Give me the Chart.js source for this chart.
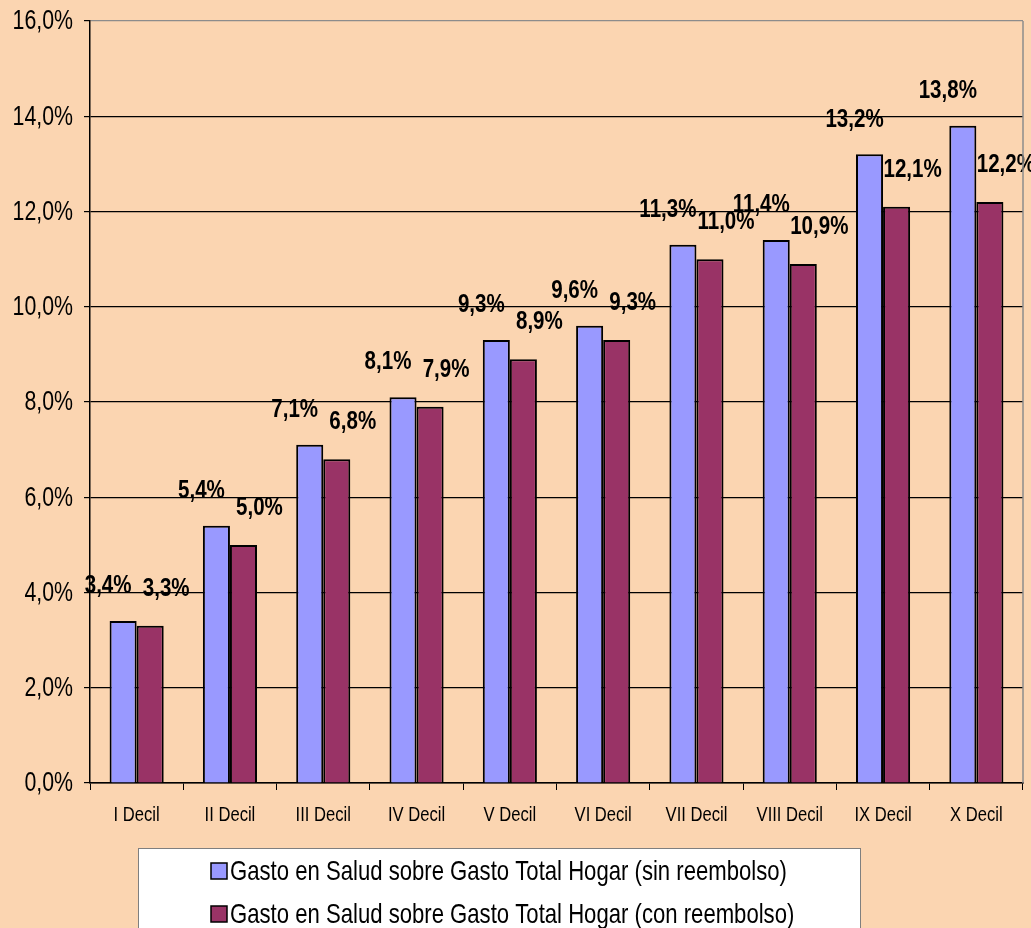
<!DOCTYPE html>
<html>
<head>
<meta charset="utf-8">
<title>Gasto en Salud por decil</title>
<script src="https://cdn.jsdelivr.net/npm/chart.js@4/dist/chart.umd.min.js"></script>
<style>
  html, body { margin: 0; padding: 0; overflow: hidden; background: #fbd5b1; }
  #wrap { position: relative; width: 1031px; height: 928px; }
</style>
</head>
<body>
<div id="wrap"><canvas id="gastoChart"></canvas></div>
<script>
// Deciles de ingreso y porcentaje del gasto en salud sobre el gasto total del hogar
const deciles = ['I Decil', 'II Decil', 'III Decil', 'IV Decil', 'V Decil',
                 'VI Decil', 'VII Decil', 'VIII Decil', 'IX Decil', 'X Decil'];
const sinReembolso = [3.4, 5.4, 7.1, 8.1, 9.3, 9.6, 11.3, 11.4, 13.2, 13.8];
const conReembolso = [3.3, 5.0, 6.8, 7.9, 8.9, 9.3, 11.0, 10.9, 12.1, 12.2];
const yTicks = [0, 2, 4, 6, 8, 10, 12, 14, 16];

const FONT = "'Liberation Sans', Arial, sans-serif";
const BG = '#fbd5b1';
const SQUEEZE = 0.79;   // letra estrecha

// formato con coma decimal: 3.4 -> "3,4%"
function pct(v) {
  return v.toFixed(1).replace('.', ',') + '%';
}

function narrowText(ctx, text, x, y, align) {
  ctx.save();
  ctx.translate(x, y);
  ctx.scale(SQUEEZE, 1);
  ctx.textAlign = align;
  ctx.textBaseline = 'middle';
  ctx.fillText(text, 0, 0);
  ctx.restore();
}

// fondo y marco derecho del area de trazado
const background = {
  id: 'background',
  beforeDraw(chart) {
    const ctx = chart.ctx;
    ctx.save();
    ctx.fillStyle = BG;
    ctx.fillRect(0, 0, chart.width, chart.height);
    ctx.restore();
  },
  afterDraw(chart) {
    const a = chart.chartArea;
    const ctx = chart.ctx;
    ctx.save();
    ctx.strokeStyle = '#8c8c8c';
    ctx.lineWidth = 1.5;
    ctx.beginPath();
    ctx.moveTo(a.right, a.top);
    ctx.lineTo(a.right, a.bottom);
    ctx.stroke();
    ctx.restore();
  }
};

// rotulos de los ejes en letra estrecha
const axisLabels = {
  id: 'axisLabels',
  afterDraw(chart) {
    const ctx = chart.ctx;
    const x = chart.scales.x, y = chart.scales.y;
    ctx.save();
    ctx.fillStyle = '#000';
    ctx.font = '27px ' + FONT;
    y.ticks.forEach(t => {
      narrowText(ctx, pct(t.value), y.right - 17, y.getPixelForValue(t.value) + 1, 'right');
    });
    ctx.font = '21px ' + FONT;
    chart.data.labels.forEach((lab, i) => {
      narrowText(ctx, lab, x.getPixelForTick(i), x.top + 32, 'center');
    });
    ctx.restore();
  }
};

// etiquetas de valor sobre cada barra
const valueLabels = {
  id: 'valueLabels',
  afterDatasetsDraw(chart) {
    const ctx = chart.ctx;
    ctx.save();
    ctx.font = 'bold 26px ' + FONT;
    ctx.fillStyle = '#000';
    const shift = [{ dx: -15, dy: -35 }, { dx: 16, dy: -37 }];
    chart.data.datasets.forEach((ds, di) => {
      chart.getDatasetMeta(di).data.forEach((bar, i) => {
        narrowText(ctx, pct(ds.data[i]), bar.x + shift[di].dx, bar.y + shift[di].dy, 'center');
      });
    });
    ctx.restore();
  }
};

// leyenda en caja blanca bajo el eje de categorias
const boxLegend = {
  id: 'boxLegend',
  afterDraw(chart) {
    const ctx = chart.ctx;
    const top = chart.scales.x.top + 65;
    const left = 138, right = 860;
    ctx.save();
    ctx.fillStyle = '#ffffff';
    ctx.fillRect(left, top, right - left, chart.height - top + 5);
    ctx.strokeStyle = '#7f7f7f';
    ctx.lineWidth = 1;
    ctx.strokeRect(left + 0.5, top + 0.5, right - left, chart.height);
    ctx.font = '28px ' + FONT;
    chart.data.datasets.forEach((ds, i) => {
      const cy = top + 23 + i * 43;
      ctx.fillStyle = ds.backgroundColor;
      ctx.fillRect(211, cy - 8, 16, 16);
      ctx.strokeStyle = '#000';
      ctx.lineWidth = 1.5;
      ctx.strokeRect(211, cy - 8, 16, 16);
      ctx.fillStyle = '#000';
      narrowText(ctx, ds.label, 230, cy + 1, 'left');
    });
    ctx.restore();
  }
};

const ctx = document.getElementById('gastoChart').getContext('2d');
new Chart(ctx, {
  type: 'bar',
  data: {
    labels: deciles,
    datasets: [
      {
        label: 'Gasto en Salud sobre Gasto Total Hogar (sin reembolso)',
        data: sinReembolso,
        backgroundColor: '#9999ff',
        borderColor: '#000',
        borderWidth: 2
      },
      {
        label: 'Gasto en Salud sobre Gasto Total Hogar (con reembolso)',
        data: conReembolso,
        backgroundColor: '#993366',
        borderColor: '#000',
        borderWidth: 2
      }
    ]
  },
  options: {
    responsive: true,
    maintainAspectRatio: false,
    animation: false,
    layout: { padding: { left: 0, right: 8, top: 21, bottom: 0 } },
    datasets: {
      bar: { categoryPercentage: 0.58, barPercentage: 1.0 }
    },
    plugins: {
      tooltip: { enabled: false },
      legend: { display: false }
    },
    scales: {
      x: {
        afterFit(axis) { axis.height = 145; },
        grid: {
          offset: true,
          drawOnChartArea: false,
          tickLength: 7,
          color: '#000'
        },
        border: { color: '#000', width: 1.5 },
        ticks: { display: false }
      },
      y: {
        min: 0,
        max: 16,
        afterFit(axis) { axis.width = 90; },
        afterBuildTicks(axis) { axis.ticks = yTicks.map(v => ({ value: v })); },
        grid: {
          color: c => (c.tick && c.tick.value === 16 ? '#8c8c8c' : '#000'),
          tickColor: '#000',
          tickLength: 6,
          lineWidth: 1.2
        },
        border: { color: '#000', width: 1.5 },
        ticks: { display: false }
      }
    }
  },
  plugins: [background, axisLabels, valueLabels, boxLegend]
});
</script>
</body>
</html>
